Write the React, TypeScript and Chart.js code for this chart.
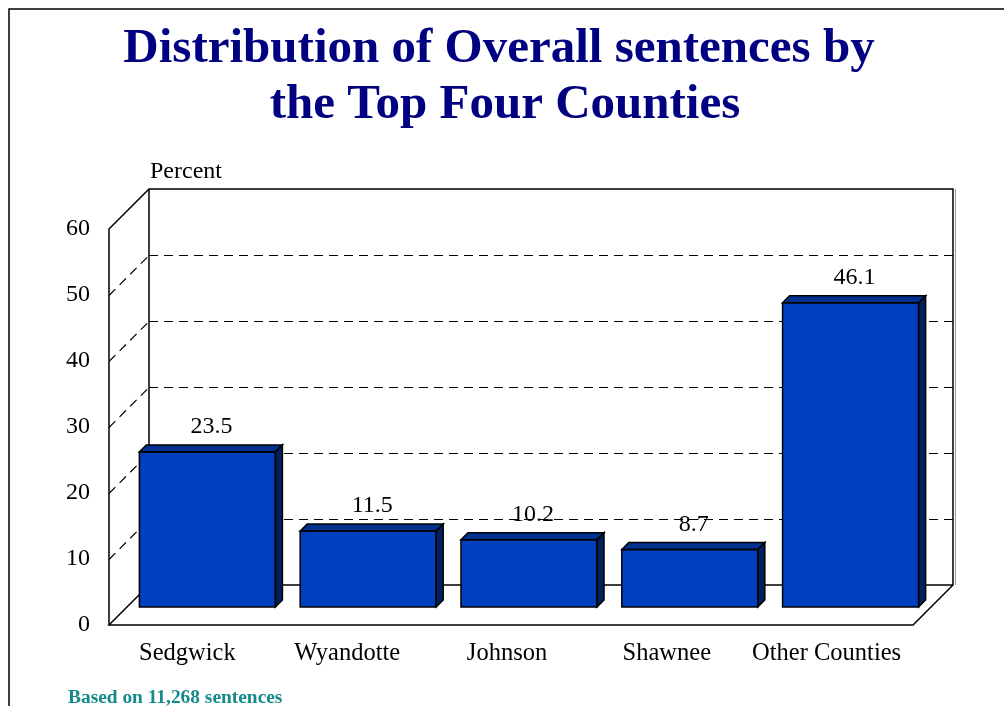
import React, { useEffect, useRef } from "react";
import { Chart, registerables } from "chart.js";

Chart.register(...registerables);

const titleLines = ["Distribution of Overall sentences by", "the Top Four Counties"];
const categories = ["Sedgwick", "Wyandotte", "Johnson", "Shawnee", "Other Counties"];
const values = [23.5, 11.5, 10.2, 8.7, 46.1];
const valueLabels = ["23.5", "11.5", "10.2", "8.7", "46.1"];
const yTicks = [0, 10, 20, 30, 40, 50, 60];
const yAxisTitle = "Percent";
const footnote = "Based on 11,268 sentences";

const WALL = 40; // depth of the 3D box
const BAR_OFF = 18; // bars sit this far back from the front plane
const BAR_D = 7; // bar depth
const FONT = "'Liberation Serif', 'Times New Roman', serif";

const box3d = {
  id: "box3d",
  beforeDatasetsDraw(chart: any) {
    const { ctx, chartArea, scales } = chart;
    const { left, right, bottom } = chartArea;
    const y = scales.y;
    const x = scales.x;
    ctx.save();

    // page frame
    ctx.strokeStyle = "#000";
    ctx.lineWidth = 1.5;
    ctx.beginPath();
    ctx.moveTo(9, 706);
    ctx.lineTo(9, 9);
    ctx.lineTo(1004, 9);
    ctx.stroke();

    // title
    ctx.fillStyle = "#000080";
    ctx.font = `bold 49px ${FONT}`;
    ctx.textAlign = "center";
    ctx.textBaseline = "alphabetic";
    ctx.fillText(titleLines[0], 499, 62);
    ctx.fillText(titleLines[1], 505, 118);

    // footnote
    ctx.fillStyle = "#168a8a";
    ctx.font = `bold 19.4px ${FONT}`;
    ctx.textAlign = "left";
    ctx.fillText(footnote, 68, 703);

    // axis title
    ctx.fillStyle = "#000";
    ctx.font = `24px ${FONT}`;
    ctx.fillText(yAxisTitle, 150, 178);

    const yMax = y.getPixelForValue(yTicks[yTicks.length - 1]);
    const y0 = y.getPixelForValue(0);

    // dashed grid lines
    ctx.setLineDash([9, 6]);
    ctx.lineWidth = 1.2;
    ctx.strokeStyle = "#000";
    for (const t of yTicks) {
      if (t === 0 || t === yTicks[yTicks.length - 1]) continue;
      const py = Math.round(y.getPixelForValue(t)) + 0.5;
      ctx.beginPath();
      ctx.moveTo(left + WALL, py - WALL);
      ctx.lineTo(right + WALL, py - WALL);
      ctx.stroke();
      ctx.beginPath();
      ctx.moveTo(left, py);
      ctx.lineTo(left + WALL, py - WALL);
      ctx.stroke();
    }
    ctx.setLineDash([]);

    // box edges
    ctx.lineWidth = 1.5;
    ctx.beginPath();
    ctx.moveTo(left, y0);
    ctx.lineTo(left, yMax);
    ctx.lineTo(left + WALL, yMax - WALL);
    ctx.lineTo(right + WALL, yMax - WALL);
    ctx.lineTo(right + WALL, y0 - WALL);
    ctx.lineTo(right, y0);
    ctx.lineTo(left, y0);
    ctx.lineTo(left + WALL, y0 - WALL);
    ctx.lineTo(right + WALL, y0 - WALL);
    ctx.moveTo(left + WALL, y0 - WALL);
    ctx.lineTo(left + WALL, yMax - WALL);
    ctx.stroke();
    // light shadow on right wall edge
    ctx.strokeStyle = "#9a9a9a";
    ctx.lineWidth = 1;
    ctx.beginPath();
    ctx.moveTo(right + WALL + 2.5, yMax - WALL);
    ctx.lineTo(right + WALL + 2.5, y0 - WALL);
    ctx.stroke();

    // tick labels
    ctx.fillStyle = "#000";
    ctx.font = `24px ${FONT}`;
    ctx.textAlign = "right";
    ctx.textBaseline = "middle";
    for (const t of yTicks) {
      ctx.fillText(String(t), left - 19, y.getPixelForValue(t));
    }

    // category labels
    ctx.textAlign = "center";
    ctx.font = `24.5px ${FONT}`;
    categories.forEach((c, i) => {
      ctx.fillText(c, x.getPixelForValue(i) - 2 - i, bottom + 29);
    });

    ctx.restore();
    // shift bars back into the box
    ctx.save();
    ctx.translate(BAR_OFF, -BAR_OFF);
  },
  afterDatasetsDraw(chart: any) {
    const { ctx } = chart;
    ctx.restore();
    const meta = chart.getDatasetMeta(0);
    ctx.save();
    ctx.lineWidth = 1.5;
    ctx.strokeStyle = "#000";
    ctx.lineJoin = "miter";
    meta.data.forEach((bar: any, i: number) => {
      const p = bar.getProps(["x", "y", "base", "width"], true);
      const l = p.x - p.width / 2 + BAR_OFF;
      const r = p.x + p.width / 2 + BAR_OFF;
      const t = p.y - BAR_OFF;
      const b = p.base - BAR_OFF;
      // top face
      ctx.fillStyle = "#00318f";
      ctx.beginPath();
      ctx.moveTo(l, t);
      ctx.lineTo(l + BAR_D, t - BAR_D);
      ctx.lineTo(r + BAR_D, t - BAR_D);
      ctx.lineTo(r, t);
      ctx.closePath();
      ctx.fill();
      ctx.stroke();
      // side face
      ctx.fillStyle = "#00215f";
      ctx.beginPath();
      ctx.moveTo(r, t);
      ctx.lineTo(r + BAR_D, t - BAR_D);
      ctx.lineTo(r + BAR_D, b - BAR_D);
      ctx.lineTo(r, b);
      ctx.closePath();
      ctx.fill();
      ctx.stroke();
      // front outline
      ctx.strokeRect(l, t, r - l, b - t);
      // value label
      ctx.fillStyle = "#000";
      ctx.font = `24px ${FONT}`;
      ctx.textAlign = "center";
      ctx.textBaseline = "middle";
      ctx.fillText(valueLabels[i], (l + r) / 2 + 4, t - 25);
    });
    ctx.restore();
  },
};

export default function App() {
  const ref = useRef<HTMLCanvasElement | null>(null);
  useEffect(() => {
    if (!ref.current) return;
    const chart = new Chart(ref.current, {
      type: "bar",
      data: {
        labels: categories,
        datasets: [
          {
            data: values,
            backgroundColor: "#0040bf",
            borderWidth: 0,
            categoryPercentage: 1,
            barPercentage: 0.846,
          },
        ],
      },
      options: {
        responsive: false,
        animation: false,
        devicePixelRatio: 1,
        layout: { padding: { left: 109, right: 91, top: 229, bottom: 81 } },
        plugins: { legend: { display: false }, tooltip: { enabled: false }, title: { display: false } },
        scales: {
          x: { display: false },
          y: { display: false, min: 0, max: 60 },
        },
      },
      plugins: [box3d],
    });
    return () => chart.destroy();
  }, []);
  return (
    <div style={{ position: "fixed", left: 0, top: 0, width: 1004, height: 706, background: "#fff" }}>
      <canvas ref={ref} width={1004} height={706} />
    </div>
  );
}
